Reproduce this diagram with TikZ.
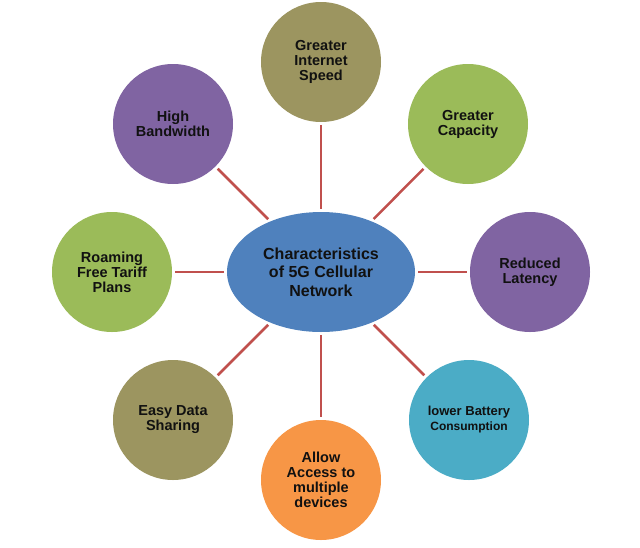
\documentclass[tikz,border=0pt]{standalone}
\usepackage{fontspec}
\setmainfont{Liberation Sans}
\usetikzlibrary{shapes.geometric}
\definecolor{olivec}{HTML}{9C9560}
\definecolor{greenc}{HTML}{9BBB59}
\definecolor{purplec}{HTML}{8064A2}
\definecolor{bluec}{HTML}{4BACC6}
\definecolor{orangec}{HTML}{F79646}
\definecolor{ellc}{HTML}{4F81BD}
\definecolor{linec}{HTML}{C0504D}
\definecolor{txtc}{HTML}{111111}
\tikzset{
  bubble/.style={circle, minimum size=120pt, inner sep=0pt, align=center,
    text=txtc, font=\bfseries\fontsize{14.5}{15}\selectfont},
  hub/.style={ellipse, fill=ellc, minimum width=188pt, minimum height=120pt,
    inner sep=0pt, align=center, text=txtc, font=\bfseries\fontsize{16}{18.5}\selectfont},
  spoke/.style={draw=linec, line width=2.5pt, shorten <=3pt, shorten >=3pt}
}
\begin{document}
\begin{tikzpicture}[x=1pt,y=-1pt]
\useasboundingbox (0,0) rectangle (640,547);
\node[hub] (c) at (321,272) {Characteristics\\of 5G Cellular\\Network};
\node[bubble, fill=olivec] (n1) at (321,62) {Greater\\Internet\\Speed};
\node[bubble, fill=greenc] (n2) at (468,124) {Greater\\Capacity};
\node[bubble, fill=purplec] (n3) at (530,272) {Reduced\\Latency};
\node[bubble, fill=bluec, font=\bfseries\fontsize{13}{15}\selectfont] (n4) at (469,420) {lower Battery\\{\fontsize{12}{14}\selectfont Consumption}};
\node[bubble, fill=orangec] (n5) at (321,480) {Allow\\Access to\\multiple\\devices};
\node[bubble, fill=olivec] (n6) at (173,420) {Easy Data\\Sharing};
\node[bubble, fill=greenc] (n7) at (112,272) {Roaming\\Free Tariff\\Plans};
\node[bubble, fill=purplec] (n8) at (173,124) {High\\Bandwidth};
\foreach \n in {n1,n2,n3,n4,n5,n6,n7,n8}
  \draw[spoke] (\n) -- (c);
\end{tikzpicture}
\end{document}
